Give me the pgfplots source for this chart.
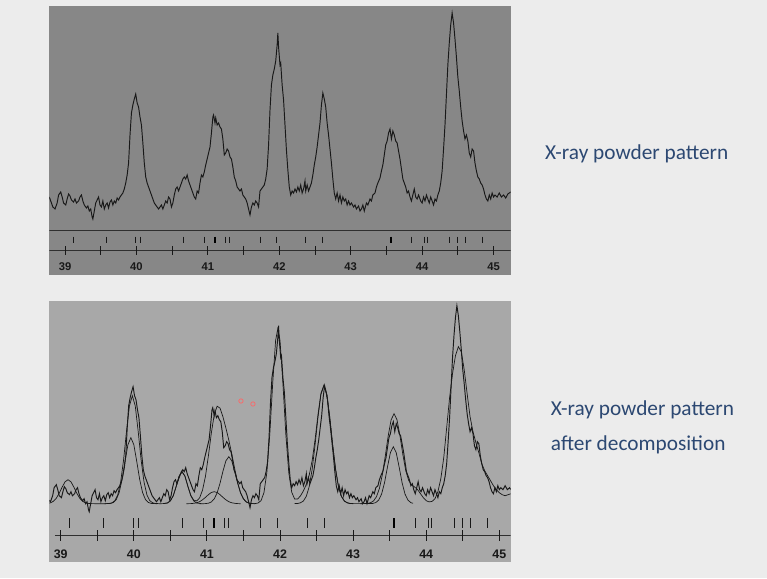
\documentclass[border=0pt]{standalone}
\usepackage{pgfplots}
\usepackage{pgfplotstable}
\pgfplotsset{compat=1.18}
\usepackage{fontspec}
\setmainfont{Liberation Sans}
\newfontfamily\calibri{Carlito}

\definecolor{slide}{RGB}{236,236,236}
\definecolor{ptop}{RGB}{135,135,135}
\definecolor{pbot}{RGB}{168,168,168}
\definecolor{ink}{RGB}{24,24,24}
\definecolor{txt}{RGB}{44,72,114}

% measured pattern (y = height in px above the bottom of the upper panel)
\pgfplotstableread{
x y
38.78 78
38.80 74
38.83 68
38.86 66
38.89 72
38.91 80
38.94 83
38.96 78
38.98 72
39.01 70
39.03 76
39.05 81
39.07 79
39.09 75
39.12 73
39.14 76
39.16 72
39.19 74
39.21 78
39.23 80
39.25 74
39.27 70
39.30 67
39.32 69
39.34 64
39.36 66
39.38 58
39.39 56
39.41 64
39.43 72
39.45 75
39.47 78
39.49 70
39.51 68
39.53 74
39.55 66
39.57 70
39.59 72
39.61 67
39.63 73
39.65 75
39.67 70
39.69 74
39.71 72
39.73 77
39.75 75
39.77 78
39.79 80
39.81 82
39.83 86
39.85 92
39.87 100
39.89 112
39.91 140
39.93 162
39.95 170
39.97 176
39.99 181
40.01 172
40.03 168
40.05 158
40.07 150
40.09 132
40.11 112
40.13 98
40.15 92
40.17 88
40.19 84
40.21 80
40.23 76
40.25 72
40.27 70
40.29 68
40.31 66
40.33 68
40.35 70
40.37 66
40.39 70
40.41 74
40.43 72
40.45 78
40.47 76
40.49 68
40.51 72
40.53 80
40.55 86
40.57 88
40.59 84
40.61 88
40.63 92
40.65 96
40.67 98
40.69 96
40.71 100
40.73 94
40.75 90
40.77 86
40.79 82
40.81 78
40.83 76
40.85 84
40.87 82
40.89 92
40.91 100
40.93 98
40.95 103
40.97 110
40.99 116
41.01 122
41.03 128
41.05 142
41.07 158
41.08 160
41.10 152
41.11 157
41.13 150
41.15 152
41.17 148
41.19 146
41.21 136
41.23 120
41.25 122
41.27 126
41.29 124
41.31 118
41.33 116
41.35 108
41.37 98
41.39 94
41.41 88
41.43 86
41.45 84
41.47 86
41.49 80
41.51 78
41.53 76
41.55 72
41.57 66
41.59 60
41.61 68
41.63 72
41.65 70
41.67 74
41.69 72
41.71 68
41.73 84
41.75 86
41.77 88
41.79 90
41.81 96
41.83 106
41.85 130
41.87 165
41.89 190
41.91 200
41.93 206
41.95 214
41.97 230
41.98 242
41.99 228
42.01 210
42.02 212
42.04 190
42.06 175
42.08 150
42.10 125
42.12 105
42.14 88
42.16 80
42.18 84
42.20 82
42.22 86
42.24 83
42.26 88
42.28 84
42.30 90
42.32 82
42.34 86
42.36 94
42.37 84
42.39 90
42.41 84
42.43 88
42.45 92
42.47 100
42.49 110
42.51 118
42.53 128
42.55 140
42.57 152
42.59 170
42.61 182
42.63 176
42.65 168
42.67 152
42.69 140
42.71 126
42.73 112
42.75 96
42.77 82
42.79 76
42.81 82
42.83 74
42.85 80
42.87 72
42.89 78
42.91 74
42.93 76
42.95 70
42.97 74
42.99 70
43.01 72
43.04 68
43.06 70
43.08 66
43.11 69
43.13 64
43.15 66
43.17 70
43.19 64
43.22 72
43.24 70
43.27 76
43.29 74
43.31 80
43.34 82
43.36 88
43.38 92
43.41 97
43.43 104
43.45 110
43.47 120
43.49 130
43.51 134
43.53 142
43.55 146
43.57 136
43.59 144
43.61 140
43.63 134
43.65 132
43.67 124
43.69 116
43.71 106
43.73 96
43.75 92
43.77 88
43.79 82
43.81 84
43.83 78
43.85 74
43.87 80
43.89 86
43.91 78
43.93 76
43.95 80
43.98 74
44.00 72
44.02 78
44.04 74
44.06 80
44.08 76
44.10 72
44.12 78
44.14 74
44.16 70
44.18 76
44.20 74
44.22 80
44.24 84
44.26 92
44.28 104
44.30 126
44.32 150
44.34 180
44.36 210
44.38 232
44.40 250
44.42 262
44.44 252
44.46 236
44.48 218
44.50 198
44.52 184
44.54 168
44.56 154
44.58 144
44.60 136
44.62 140
44.64 134
44.66 122
44.68 118
44.70 126
44.72 124
44.74 112
44.76 104
44.78 98
44.80 96
44.82 92
44.84 90
44.86 86
44.88 80
44.90 76
44.92 74
44.94 80
44.96 76
44.98 82
45.00 78
45.02 80
45.05 78
45.08 82
45.11 78
45.14 80
45.17 77
45.20 81
45.24 83
}\obs

% calculated total profile
\pgfplotstableread{
x y
38.84 64.5
38.86 64.9
38.90 66.4
38.94 69.5
38.98 74.5
39.02 80.6
39.06 85.9
39.10 88.0
39.14 85.9
39.18 80.6
39.22 74.5
39.26 69.5
39.30 66.4
39.34 64.9
39.38 64.3
39.42 64.1
39.50 64.0
39.60 64.0
39.66 64.2
39.70 64.8
39.74 66.9
39.78 72.7
39.82 85.6
39.86 107.7
39.90 136.3
39.94 161.7
39.98 172.0
40.02 161.7
40.06 136.3
40.10 107.7
40.14 85.6
40.18 72.7
40.22 66.9
40.26 64.8
40.30 64.2
40.36 64.0
40.40 64.1
40.46 64.7
40.50 66.8
40.54 72.0
40.58 81.3
40.62 91.5
40.66 96.0
40.70 91.5
40.74 81.4
40.78 72.2
40.82 67.5
40.86 66.8
40.90 69.8
40.94 77.5
40.98 91.3
41.02 111.5
41.06 134.3
41.10 153.0
41.14 161.5
41.18 159.5
41.22 150.7
41.26 139.6
41.30 127.5
41.34 113.9
41.38 99.1
41.42 85.3
41.46 75.0
41.50 68.8
41.54 65.7
41.58 64.5
41.62 64.1
41.66 64.1
41.70 64.7
41.74 67.0
41.78 74.9
41.82 95.1
41.86 133.1
41.90 184.2
41.94 227.3
41.97 239.0
42.00 227.3
42.04 184.2
42.08 133.1
42.12 95.1
42.16 75.6
42.20 68.7
42.24 68.6
42.28 71.8
42.32 76.8
42.36 83.4
42.40 92.7
42.44 107.0
42.48 128.2
42.52 153.2
42.56 174.3
42.60 182.3
42.64 173.3
42.68 150.7
42.72 123.0
42.76 98.5
42.80 81.2
42.84 71.4
42.88 66.7
42.92 64.9
42.96 64.2
43.00 64.1
43.16 64.1
43.20 64.3
43.24 65.0
43.28 66.8
43.32 71.0
43.36 79.3
43.40 92.9
43.44 111.5
43.48 131.8
43.52 147.8
43.56 154.0
43.60 148.0
43.64 132.5
43.68 113.4
43.72 97.2
43.76 87.3
43.80 82.8
43.84 80.8
43.88 78.3
43.92 74.2
43.96 70.1
44.00 67.0
44.04 65.8
44.08 66.3
44.12 69.0
44.16 76.0
44.20 89.0
44.24 110.0
44.28 140.0
44.32 170.0
44.36 194.0
44.40 212.0
44.44 221.0
44.48 216.0
44.52 198.0
44.56 174.0
44.60 151.0
44.64 136.0
44.68 125.0
44.72 115.0
44.76 104.0
44.80 97.0
44.84 92.0
44.88 87.0
44.92 82.0
44.96 78.0
45.00 75.0
45.04 73.0
45.08 72.0
45.12 73.0
45.16 74.0
}\calc

\pgfplotsset{
  panel/.style={
    scale only axis, anchor=south west,
    axis line style={draw=none},
    ytick=\empty,
    xtick={39,40,41,42,43,44,45},
    xticklabels={39,40,41,42,43,44,45},
    major tick length=0pt,
  },
  curve/.style={ink, line width=0.95pt},
  thin curve/.style={ink, line width=0.7pt},
  refl/.style={only marks, mark=|, mark options={draw=ink, line width=0.85pt}},
}

\begin{document}
\begin{tikzpicture}
\useasboundingbox (0,0) rectangle (767pt,578pt);
\fill[slide] (0,0) rectangle (767pt,578pt);

% upper panel: raw pattern
\begin{axis}[panel,
  at={(49.3pt,303pt)}, width=461.4pt, height=269pt,
  xmin=38.78, xmax=45.24, ymin=0, ymax=269,
  axis background/.style={fill=ptop},
  xticklabel style={font=\bfseries\fontsize{11.2}{11.2}\selectfont, text=ink, anchor=center, yshift=8.3pt},
]
\addplot[curve] table {\obs};
\addplot[ink!90, line width=0.8pt] coordinates {(38.78,44.3) (45.24,44.3)};
\addplot[ink!90, line width=0.8pt] coordinates {(38.78,24.3) (45.24,24.3)};
\addplot[refl, mark size=4.2pt] coordinates {
  (39,24.3) (39.5,24.3) (40,24.3) (40.5,24.3) (41,24.3) (41.5,24.3) (42,24.3)
  (42.5,24.3) (43,24.3) (43.5,24.3) (44,24.3) (44.5,24.3) (45,24.3)};
\addplot[refl, mark size=3.3pt] coordinates {
  (39.12,35) (39.58,35) (39.99,35) (40.06,35) (40.66,35) (40.95,35) (41.24,35)
  (41.30,35) (41.73,35) (41.965,35) (42.37,35) (42.61,35) (43.85,35) (44.03,35)
  (44.07,35) (44.38,35) (44.49,35) (44.61,35) (44.84,35)};
\addplot[refl, mark size=3.3pt, mark options={line width=1.6pt}] coordinates {(41.10,35) (43.56,35)};
\end{axis}

% lower panel: pattern after decomposition
\begin{axis}[panel,
  at={(49.3pt,16.3pt)}, width=461.4pt, height=261pt,
  xmin=38.844, xmax=45.156, ymin=6, ymax=267,
  axis background/.style={fill=pbot},
  xticklabel style={font=\bfseries\fontsize{12.4}{12.4}\selectfont, text=ink, anchor=center, yshift=7.7pt},
]
\addplot[curve] table {\obs};
\addplot[thin curve] table {\calc};
\addplot[thin curve] coordinates {(39.60,64.0)(39.64,64.1)(39.68,64.3)(39.72,65.2)(39.76,68.1)(39.80,75.2)(39.84,88.4)(39.88,106.4)(39.92,123.1)(39.96,130)(40.00,123.1)(40.04,106.4)(40.08,88.4)(40.12,75.2)(40.16,68.1)(40.20,65.2)(40.24,64.3)(40.28,64.1)(40.32,64.0)};
\addplot[thin curve] coordinates {(40.40,64.1)(40.46,64.7)(40.50,66.8)(40.54,72.0)(40.58,81.3)(40.62,91.5)(40.66,96)(40.70,91.5)(40.74,81.3)(40.78,72.0)(40.82,66.8)(40.86,64.7)(40.92,64.1)};
\addplot[thin curve] coordinates {(40.72,64.0)(40.78,64.1)(40.82,64.4)(40.86,64.9)(40.90,66.0)(40.94,67.9)(40.98,70.3)(41.02,73.0)(41.06,75.2)(41.10,76)(41.14,75.2)(41.18,73.0)(41.22,70.3)(41.26,67.9)(41.30,66.0)(41.34,64.9)(41.38,64.4)(41.42,64.1)(41.46,64.0)};
\addplot[thin curve] coordinates {(40.90,64.0)(40.94,64.0)(40.98,64.1)(41.02,64.5)(41.06,65.7)(41.10,68.8)(41.14,74.8)(41.18,84.6)(41.22,96.6)(41.26,106.9)(41.30,111)(41.34,106.9)(41.38,96.6)(41.42,84.6)(41.46,74.8)(41.50,68.8)(41.54,65.7)(41.58,64.5)(41.62,64.1)(41.66,64.0)};
\addplot[thin curve] coordinates {(42.20,64.1)(42.24,64.2)(42.28,64.9)(42.32,66.7)(42.36,71.4)(42.40,81.2)(42.44,98.5)(42.48,123)(42.52,150.7)(42.56,173.3)(42.60,182)(42.64,173.3)(42.68,150.7)(42.72,123)(42.76,98.5)(42.80,81.2)(42.84,71.4)(42.88,66.7)(42.92,64.9)(42.96,64.2)(43.00,64.0)};
\addplot[thin curve] coordinates {(43.10,64.0)(43.27,64.3)(43.31,65.1)(43.35,67.6)(43.39,73.7)(43.43,85)(43.47,100.6)(43.51,115)(43.55,121)(43.59,115)(43.63,100.6)(43.67,85)(43.71,73.7)(43.75,67.6)(43.79,65.1)(43.82,64.4)};
\addplot[ink!90, line width=0.8pt] coordinates {(38.92,32) (45.156,32)};
\addplot[refl, mark size=5.5pt] coordinates {
  (39,32) (39.5,32) (40,32) (40.5,32) (41,32) (41.5,32) (42,32)
  (42.5,32) (43,32) (43.5,32) (44,32) (44.5,32) (45,32)};
\addplot[refl, mark size=5pt] coordinates {
  (39.12,44.3) (39.58,44.3) (39.99,44.3) (40.06,44.3) (40.66,44.3) (40.95,44.3) (41.24,44.3)
  (41.30,44.3) (41.73,44.3) (41.965,44.3) (42.37,44.3) (42.61,44.3) (43.85,44.3) (44.03,44.3)
  (44.07,44.3) (44.38,44.3) (44.49,44.3) (44.61,44.3) (44.84,44.3)};
\addplot[refl, mark size=5pt, mark options={line width=1.8pt}] coordinates {(41.10,44.3) (43.56,44.3)};
\addplot[only marks, mark=o, mark size=2.2pt, mark options={draw=red!60, line width=0.7pt}] coordinates {(41.466,166.7) (41.63,163.7)};
\end{axis}

\node[anchor=base west, text=txt, font=\calibri\fontsize{21.3}{21.3}\selectfont, inner sep=0pt] at (545pt,418pt) {X-ray powder pattern};
\node[anchor=base west, text=txt, font=\calibri\fontsize{21.3}{21.3}\selectfont, inner sep=0pt] at (550.7pt,162pt) {X-ray powder pattern};
\node[anchor=base west, text=txt, font=\calibri\fontsize{21.3}{21.3}\selectfont, inner sep=0pt] at (550.7pt,128pt) {after decomposition};
\end{tikzpicture}
\end{document}
